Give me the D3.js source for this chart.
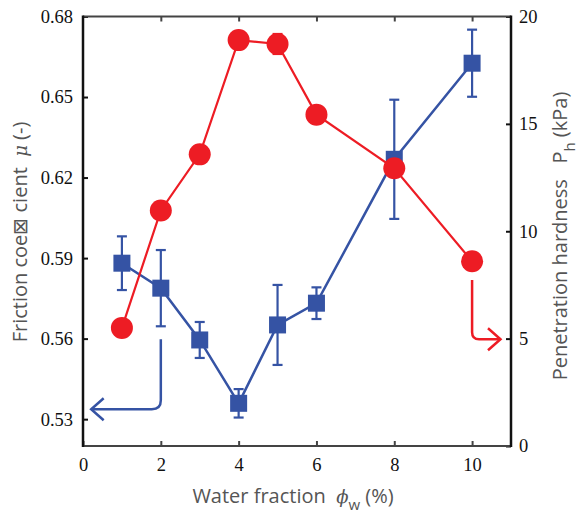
<!DOCTYPE html>
<html>
<head>
<meta charset="utf-8">
<script src="https://cdn.jsdelivr.net/npm/d3@7"></script>
<style>
  body { margin: 0; background: #fff; }
  svg { display: block; }
  text { white-space: pre; }
</style>
</head>
<body>
<svg width="578" height="515"></svg>
<script>
// water fraction (%)
const waterFraction = [1, 2, 3, 4, 5, 6, 8, 10];
// friction coefficient (left axis) with error
const friction = [0.5881, 0.5788, 0.5595, 0.5359, 0.5651, 0.5732, 0.6268, 0.6626];
const frictionErr = [0.0100, 0.0142, 0.0067, 0.0053, 0.0149, 0.0059, 0.0222, 0.0125];
// penetration hardness (right axis, kPa) with error
const hardness = [5.5, 10.97, 13.58, 18.9, 18.72, 15.43, 12.93, 8.6];
const hardnessErr = [0, 0, 0, 0, 0.47, 0, 0, 0];

const xTicks = [0, 2, 4, 6, 8, 10];
const leftTicks = [0.53, 0.56, 0.59, 0.62, 0.65, 0.68];
const rightTicks = [0, 5, 10, 15, 20];

const BLUE = "#3553a4";
const RED = "#ed1c24";
const SERIF = "'Liberation Serif', 'DejaVu Serif', serif";
const GREEK = "'DejaVu Serif', serif";
const SANS = "'Open Sans', 'Noto Sans', sans-serif";

const svg = d3.select("svg");
const L = 83, R = 511, T = 16.5, B = 446;

const x = d3.scaleLinear().domain([0, 11]).range([L, R]);
const yL = d3.scaleLinear().domain([0.52, 0.68]).range([B, T]);
const yR = d3.scaleLinear().domain([0, 20]).range([B, T]);

// axes (ticks point inward)
const styleAxis = (g, col) => {
    g.attr("font-family", null);
    g.select(".domain").remove();
    g.selectAll(".tick line").attr("stroke", col).attr("stroke-width", 2);
    g.selectAll(".tick text")
        .style("font-family", SERIF)
        .style("font-size", "18.5px")
        .attr("fill", "#111");
};

svg.append("g").attr("transform", `translate(0,${B})`)
    .call(d3.axisBottom(x).tickValues(xTicks).tickSize(-5).tickPadding(12))
    .call(g => styleAxis(g, "#444"));
svg.append("g").attr("transform", `translate(0,${T})`)
    .call(d3.axisTop(x).tickValues(xTicks.slice(1)).tickSize(-5).tickFormat(""))
    .call(g => styleAxis(g, "#444"));
svg.append("g").attr("transform", `translate(${L},0)`)
    .call(d3.axisLeft(yL).tickValues(leftTicks).tickSize(-5).tickPadding(10).tickFormat(d3.format(".2f")))
    .call(g => styleAxis(g, "#111"));
svg.append("g").attr("transform", `translate(${R},0)`)
    .call(d3.axisRight(yR).tickValues(rightTicks).tickSize(-5).tickPadding(8))
    .call(g => styleAxis(g, "#111"));

// frame
svg.append("line").attr("x1", L).attr("x2", R).attr("y1", T).attr("y2", T).attr("stroke", "#444").attr("stroke-width", 2.2);
svg.append("line").attr("x1", L).attr("x2", R).attr("y1", B).attr("y2", B).attr("stroke", "#444").attr("stroke-width", 2.2);
svg.append("line").attr("x1", L).attr("x2", L).attr("y1", T - 1).attr("y2", B + 1).attr("stroke", "#111").attr("stroke-width", 2.5);
svg.append("line").attr("x1", R).attr("x2", R).attr("y1", T - 1).attr("y2", B + 1).attr("stroke", "#111").attr("stroke-width", 2.5);

// blue series: friction
const blueData = waterFraction.map((w, i) => ({w, v: friction[i], e: frictionErr[i]}));
const gB = svg.append("g");
gB.append("path")
    .attr("d", d3.line().x(d => x(d.w)).y(d => yL(d.v))(blueData))
    .attr("fill", "none").attr("stroke", BLUE).attr("stroke-width", 2.5);
const eb = gB.selectAll(".eb").data(blueData).join("g").attr("stroke", BLUE).attr("stroke-width", 2.2);
eb.append("line").attr("x1", d => x(d.w)).attr("x2", d => x(d.w))
    .attr("y1", d => yL(d.v - d.e)).attr("y2", d => yL(d.v + d.e));
eb.append("line").attr("x1", d => x(d.w) - 5).attr("x2", d => x(d.w) + 5)
    .attr("y1", d => yL(d.v - d.e)).attr("y2", d => yL(d.v - d.e));
eb.append("line").attr("x1", d => x(d.w) - 5).attr("x2", d => x(d.w) + 5)
    .attr("y1", d => yL(d.v + d.e)).attr("y2", d => yL(d.v + d.e));
gB.selectAll("rect").data(blueData).join("rect")
    .attr("x", d => x(d.w) - 8.5).attr("y", d => yL(d.v) - 8.5)
    .attr("width", 17).attr("height", 17).attr("fill", BLUE);

// red series: hardness
const redData = waterFraction.map((w, i) => ({w, v: hardness[i], e: hardnessErr[i]}));
const gR = svg.append("g");
gR.append("path")
    .attr("d", d3.line().x(d => x(d.w)).y(d => yR(d.v))(redData))
    .attr("fill", "none").attr("stroke", RED).attr("stroke-width", 2.2);
const er = gR.selectAll(".er").data(redData.filter(d => d.e > 0)).join("g").attr("stroke", RED).attr("stroke-width", 2);
er.append("line").attr("x1", d => x(d.w)).attr("x2", d => x(d.w))
    .attr("y1", d => yR(d.v - d.e)).attr("y2", d => yR(d.v + d.e));
er.append("line").attr("x1", d => x(d.w) - 5).attr("x2", d => x(d.w) + 5)
    .attr("y1", d => yR(d.v - d.e)).attr("y2", d => yR(d.v - d.e));
er.append("line").attr("x1", d => x(d.w) - 5).attr("x2", d => x(d.w) + 5)
    .attr("y1", d => yR(d.v + d.e)).attr("y2", d => yR(d.v + d.e));
gR.selectAll("circle").data(redData).join("circle")
    .attr("cx", d => x(d.w)).attr("cy", d => yR(d.v)).attr("r", 11).attr("fill", RED);

// arrows pointing to the matching axis
const arrow = (pts, r, col, dir) => {
    const [p0, p1, p2] = pts;
    const sx = Math.sign(p2[0] - p1[0]);
    svg.append("path")
        .attr("d", `M${p0[0]},${p0[1]} L${p1[0]},${p1[1] - r} Q${p1[0]},${p1[1]} ${p1[0] + sx * r},${p1[1]} L${p2[0]},${p2[1]}`)
        .attr("fill", "none").attr("stroke", col).attr("stroke-width", 2.5);
    svg.append("path")
        .attr("d", `M${p2[0] - dir * 12.5},${p2[1] - 11} L${p2[0]},${p2[1]} L${p2[0] - dir * 12.5},${p2[1] + 11}`)
        .attr("fill", "none").attr("stroke", col).attr("stroke-width", 2.5);
};
arrow([[x(2), yL(0.5598)], [x(2), yL(0.5337)], [x(0.21), yL(0.5337)]], 9, BLUE, -1);
arrow([[x(10), yR(7.73)], [x(10), yR(4.97)], [x(10.73), yR(4.97)]], 7, RED, 1);

// axis titles
const xt = svg.append("text").attr("x", 293).attr("y", 503).attr("text-anchor", "middle")
    .style("font-family", SANS).style("font-size", "20px").attr("fill", "#555");
xt.append("tspan").text("Water fraction  ");
xt.append("tspan").style("font-family", GREEK).style("font-style", "italic").style("font-size", "18px").text("ϕ");
xt.append("tspan").style("font-size", "15px").attr("dy", 7).text("w");
xt.append("tspan").attr("dy", -7).text(" (%)");

const yt = svg.append("text").attr("transform", "translate(27,232) rotate(-90)").attr("text-anchor", "middle")
    .style("font-family", SANS).style("font-size", "20px").attr("fill", "#555");
yt.append("tspan").text("Friction coe⊠ cient  ");
yt.append("tspan").style("font-family", GREEK).style("font-style", "italic").style("font-size", "18px").text("μ");
yt.append("tspan").text(" (-)");

const rt = svg.append("text").attr("transform", "translate(567,236) rotate(-90)").attr("text-anchor", "middle")
    .style("font-family", SANS).style("font-size", "20px").attr("fill", "#555");
rt.append("tspan").text("Penetration hardness   P");
rt.append("tspan").style("font-size", "15px").attr("dy", 8).text("h");
rt.append("tspan").attr("dy", -8).text(" (kPa)");
</script>
</body>
</html>
